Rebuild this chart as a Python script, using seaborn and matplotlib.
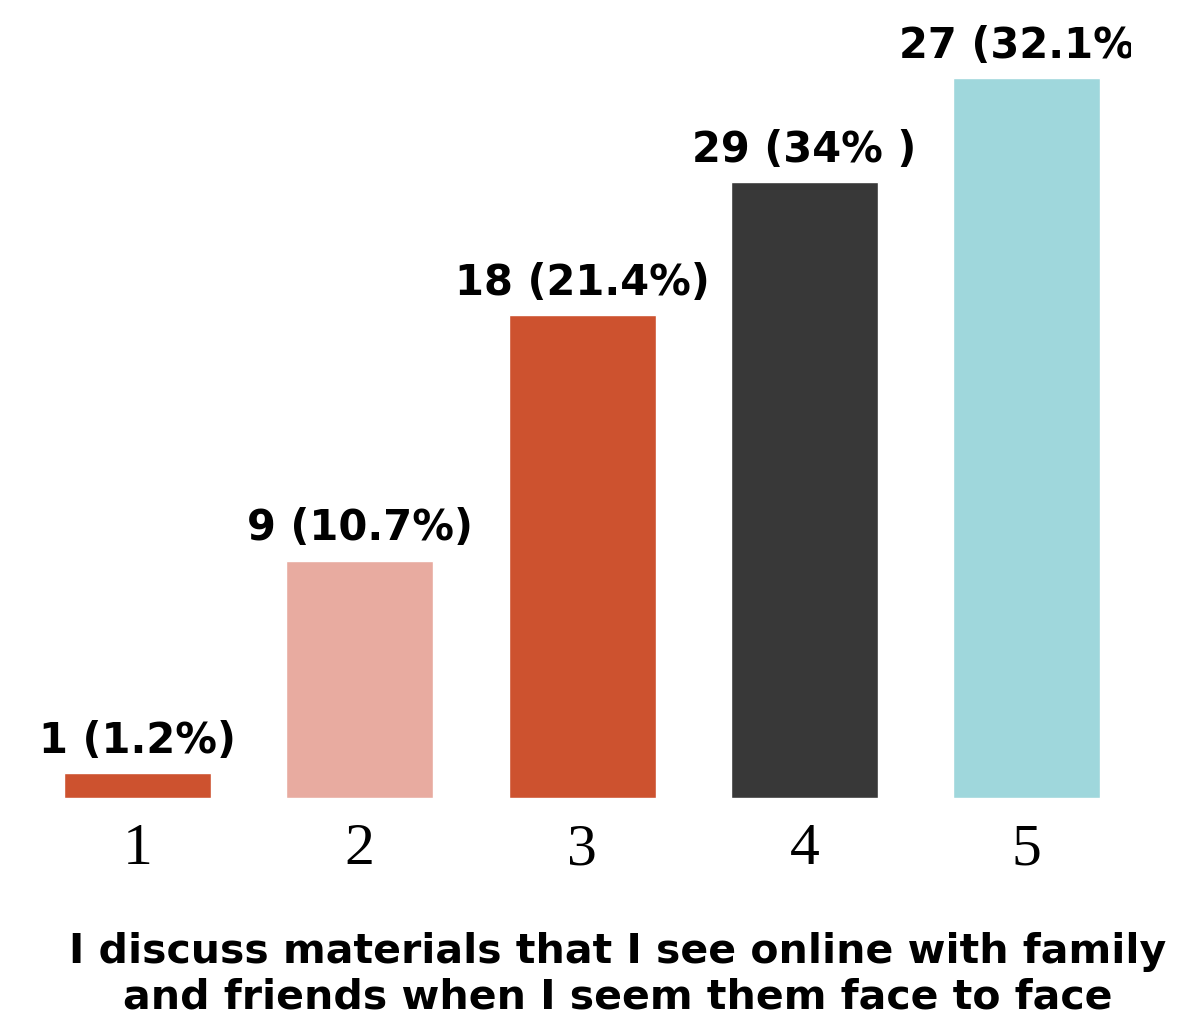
import matplotlib
matplotlib.use("Agg")
import matplotlib.pyplot as plt
from matplotlib.transforms import Bbox, TransformedBbox
import seaborn as sns

categories = ["1", "2", "3", "4", "5"]
bar_heights = [0.93, 8.9, 18.1, 23.1, 27.0]
bar_labels = ["1 (1.2%)", "9 (10.7%)", "18 (21.4%)", "29 (34% )", "27 (32.1%)"]
bar_colors = ["#CD522F", "#E8ABA0", "#CD522F", "#383838", "#9FD7DC"]
x_title = "I discuss materials that I see online with family\nand friends when I seem them face to face"

sns.set_theme(style="white")
plt.rcParams["font.family"] = ["DejaVu Sans"]

fig = plt.figure(figsize=(11.83, 10.21), dpi=100)
ax = fig.add_axes([0.0, 0.2184, 1.0, 0.7055])

sns.barplot(x=categories, y=bar_heights, hue=categories, palette=bar_colors,
            legend=False, width=0.661, saturation=1, ax=ax)

# the original label box cuts the right edge of the last label
clip = TransformedBbox(Bbox([[0.0, 0.0], [0.956, 1.0]]), fig.transFigure)
for cont, lab in zip(ax.containers, bar_labels):
    texts = ax.bar_label(cont, labels=[lab], padding=8, fontsize=30,
                         fontweight="bold", color="black", clip_on=False)
    for t in texts:
        t.set_clip_box(clip)
        t.set_clip_on(True)

ax.set_ylim(0, 27)
ax.set_xlim(-0.619, 4.704)
ax.set_yticks([])
ax.set_ylabel("")
ax.set_xlabel("")
for s in ax.spines.values():
    s.set_visible(False)
ax.tick_params(axis="x", length=0, pad=18)
for t in ax.get_xticklabels():
    t.set_fontfamily("Liberation Serif")
    t.set_fontsize(43)
    t.set_color("black")

fig.text(0.522, 0.003, x_title, ha="center", va="bottom", fontsize=29.5,
         fontweight="bold", color="black", linespacing=1.2)

fig.savefig("out.png", dpi=100)
